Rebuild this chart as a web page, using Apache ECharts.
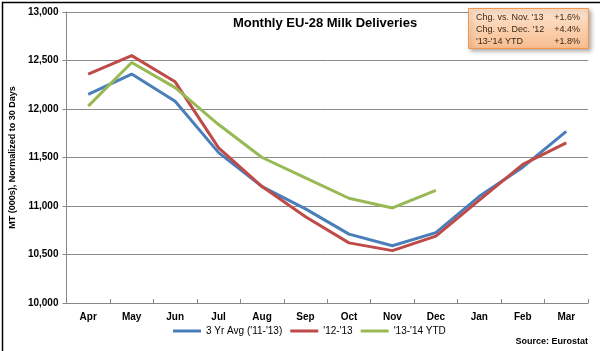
<!DOCTYPE html>
<html>
<head>
<meta charset="utf-8">
<script src="https://cdn.jsdelivr.net/npm/echarts@6/dist/echarts.min.js"></script>
<style>
  html, body { margin: 0; padding: 0; background: #fff; }
  #chart { width: 600px; height: 351px; }
</style>
</head>
<body>
<div id="chart"></div>
<script>
const months = ['Apr', 'May', 'Jun', 'Jul', 'Aug', 'Sep', 'Oct', 'Nov', 'Dec', 'Jan', 'Feb', 'Mar'];
const avg3yr = [12150, 12360, 12080, 11550, 11200, 10970, 10710, 10590, 10725, 11100, 11400, 11770];
const y1213 = [12360, 12550, 12280, 11600, 11200, 10890, 10620, 10540, 10690, 11060, 11430, 11650];
const y1314 = [12030, 12480, 12220, 11840, 11500, 11290, 11080, 10980, 11160];
const yTicks = [10000, 10500, 11000, 11500, 12000, 12500, 13000];
const notes = [
  ["Chg. vs. Nov. '13", '+1.6%'],
  ["Chg. vs. Dec. '12", '+4.4%'],
  ["'13-'14 YTD", '+1.8%']
];

const chart = echarts.init(document.getElementById('chart'));
const font = 'Liberation Sans';

const noteTexts = [];
notes.forEach((n, i) => {
  noteTexts.push({ type: 'text', x: 476, y: 13 + i * 12, z: 12,
    style: { text: n[0], font: '9px ' + font, fill: '#3b2a1a' } });
  noteTexts.push({ type: 'text', x: 580, y: 13 + i * 12, z: 12,
    style: { text: n[1], font: '9px ' + font, fill: '#3b2a1a', align: 'right' } });
});

const option = {
  backgroundColor: '#fff',
  animation: false,
  title: {
    text: 'Monthly EU-28 Milk Deliveries',
    left: 320, top: 12, textAlign: 'center',
    textStyle: { fontFamily: font, fontSize: 13, fontWeight: 'bold', color: '#000' }
  },
  grid: { left: 60, right: 12, top: 12, bottom: 48 },
  legend: {
    bottom: 10, left: 168, itemWidth: 28, itemHeight: 3, itemGap: 8,
    icon: 'rect',
    textStyle: { fontFamily: font, fontSize: 10, color: '#000' },
    data: ["3 Yr Avg ('11-'13)", "'12-'13", "'13-'14 YTD"]
  },
  xAxis: {
    type: 'category', data: months, boundaryGap: true,
    axisLine: { lineStyle: { color: '#888' } },
    axisTick: { show: true, inside: true, length: 4, lineStyle: { color: '#888' } },
    axisLabel: { fontFamily: font, fontSize: 10, fontWeight: 'bold', color: '#000', margin: 9 }
  },
  yAxis: {
    type: 'value', min: 10000, max: 13000, interval: 500,
    name: 'MT (000s), Normalized to 30 Days',
    nameLocation: 'middle', nameGap: 46, nameRotate: 90,
    nameTextStyle: { fontFamily: font, fontSize: 9, fontWeight: 'bold', color: '#000' },
    axisLine: { show: true, lineStyle: { color: '#888' } },
    axisTick: { show: true, length: 4, lineStyle: { color: '#888' } },
    splitLine: { lineStyle: { color: '#8a8a8a' } },
    axisLabel: {
      fontFamily: font, fontSize: 10, fontWeight: 'bold', color: '#000', margin: 8,
      formatter: v => yTicks.includes(v) ? v.toLocaleString('en-US') : ''
    }
  },
  series: [
    { name: "3 Yr Avg ('11-'13)", type: 'line', data: avg3yr, symbol: 'none',
      lineStyle: { color: '#4a7ebb', width: 3 }, itemStyle: { color: '#4a7ebb' } },
    { name: "'12-'13", type: 'line', data: y1213, symbol: 'none',
      lineStyle: { color: '#be4b48', width: 3 }, itemStyle: { color: '#be4b48' } },
    { name: "'13-'14 YTD", type: 'line', data: y1314, symbol: 'none',
      lineStyle: { color: '#98b954', width: 3 }, itemStyle: { color: '#98b954' } }
  ],
  graphic: [
    { type: 'rect', left: 0, top: 0, shape: { x: 0.5, y: 0.5, width: 599, height: 350 },
      style: { fill: 'none', stroke: '#000', lineWidth: 1.5 }, silent: true },
    { type: 'rect', left: 468, top: 8, z: 10,
      shape: { width: 120, height: 40 },
      style: {
        fill: new echarts.graphic.LinearGradient(0, 0, 0, 1, [
          { offset: 0, color: '#fde4cf' }, { offset: 1, color: '#f9bd8f' }
        ]),
        stroke: '#f79646', lineWidth: 1,
        shadowBlur: 4, shadowOffsetX: 2, shadowOffsetY: 2, shadowColor: 'rgba(0,0,0,0.3)'
      } },
    ...noteTexts,
    { type: 'text', right: 12, bottom: 5, z: 10,
      style: { text: 'Source: Eurostat', font: 'bold 9px ' + font, fill: '#000' } }
  ]
};
chart.setOption(option);
</script>
</body>
</html>
